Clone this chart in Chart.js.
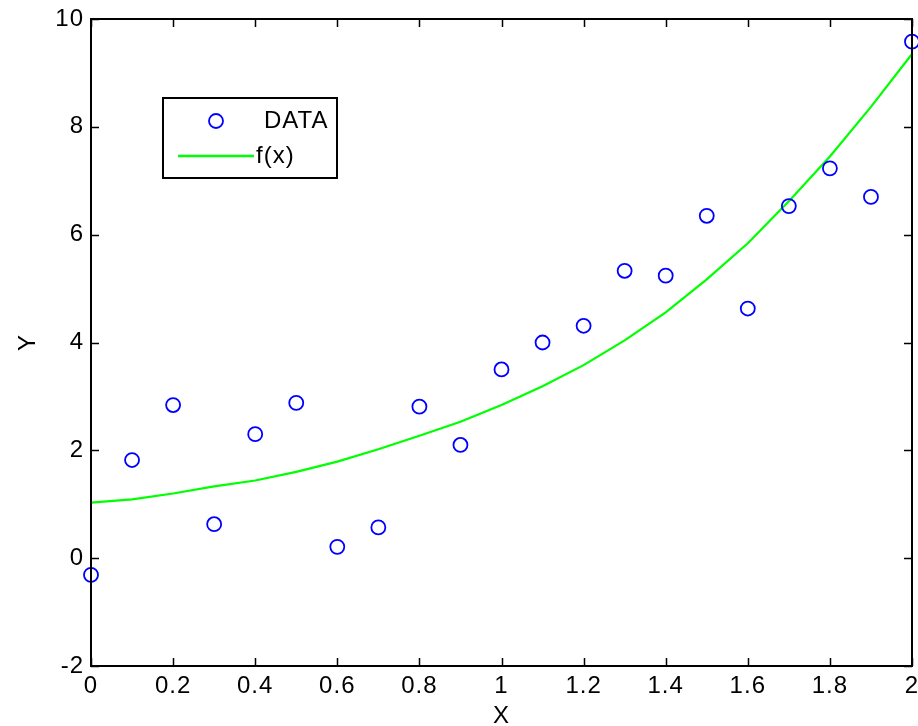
<!DOCTYPE html>
<html>
<head>
<meta charset="utf-8">
<script src="https://cdn.jsdelivr.net/npm/chart.js@4/dist/chart.umd.min.js"></script>
<style>
  html, body { margin: 0; padding: 0; background: #ffffff; }
  #wrap { width: 918px; height: 726px; }
</style>
</head>
<body>
<div id="wrap"><canvas id="c" width="918" height="726"></canvas></div>
<script>
// ---- data ----
const xValues = [0, 0.1, 0.2, 0.3, 0.4, 0.5, 0.6, 0.7, 0.8, 0.9, 1.0, 1.1, 1.2, 1.3, 1.4, 1.5, 1.6, 1.7, 1.8, 1.9, 2.0];
const dataValues = [-0.31, 1.82, 2.84, 0.63, 2.30, 2.88, 0.21, 0.57, 2.81, 2.10, 3.50, 4.00, 4.31, 5.33, 5.24, 6.35, 4.63, 6.53, 7.23, 6.70, 9.58];
const fitValues = [1.03, 1.09, 1.20, 1.33, 1.44, 1.60, 1.79, 2.02, 2.27, 2.53, 2.84, 3.19, 3.58, 4.04, 4.56, 5.17, 5.84, 6.62, 7.45, 8.37, 9.35];
const xTickValues = [0, 0.2, 0.4, 0.6, 0.8, 1, 1.2, 1.4, 1.6, 1.8, 2];
const xTickLabels = ['0', '0.2', '0.4', '0.6', '0.8', '1', '1.2', '1.4', '1.6', '1.8', '2'];
const yTickValues = [-2, 0, 2, 4, 6, 8, 10];
const yTickLabels = ['-2', '0', '2', '4', '6', '8', '10'];
const seriesNames = ['DATA', 'f(x)'];
const axisTitles = { x: 'X', y: 'Y' };

const FONT = "'Liberation Sans', Arial, Helvetica, sans-serif";
const FS = 24;
const SPACING = '1px';
const BLUE = '#0000ff';
const GREEN = '#00ff00';

const toPoints = (ys) => xValues.map((x, i) => ({ x: x, y: ys[i] }));

const spacingPlugin = {
  id: 'spacing',
  beforeLayout(chart) { chart.ctx.letterSpacing = SPACING; },
  beforeDraw(chart) { chart.ctx.letterSpacing = SPACING; }
};

const frameAndLegend = {
  id: 'frameAndLegend',
  afterDraw(chart) {
    const ctx = chart.ctx;
    const a = chart.chartArea;
    const xs = chart.scales.x, ys = chart.scales.y;
    ctx.save();
    // inward ticks on all four sides
    ctx.strokeStyle = '#000';
    ctx.lineWidth = 1.5;
    const TL = 8;
    ctx.beginPath();
    xTickValues.forEach(v => {
      const px = Math.round(xs.getPixelForValue(v)) + 0.5;
      ctx.moveTo(px, a.bottom); ctx.lineTo(px, a.bottom - TL);
      ctx.moveTo(px, a.top); ctx.lineTo(px, a.top + TL);
    });
    yTickValues.forEach(v => {
      const py = Math.round(ys.getPixelForValue(v)) + 0.5;
      ctx.moveTo(a.left, py); ctx.lineTo(a.left + TL, py);
      ctx.moveTo(a.right, py); ctx.lineTo(a.right - TL, py);
    });
    ctx.stroke();
    // box
    ctx.lineWidth = 2;
    ctx.strokeRect(a.left, a.top, a.right - a.left, a.bottom - a.top);

    // legend
    const lx = a.left + 72, ly = a.top + 79, lw = 174, lh = 80;
    ctx.fillStyle = '#fff';
    ctx.fillRect(lx, ly, lw, lh);
    ctx.lineWidth = 2;
    ctx.strokeStyle = '#000';
    ctx.strokeRect(lx, ly, lw, lh);
    const ds0 = chart.data.datasets[0], ds1 = chart.data.datasets[1];
    // DATA marker
    ctx.beginPath();
    ctx.strokeStyle = ds0.borderColor;
    ctx.lineWidth = ds0.borderWidth;
    ctx.arc(lx + 53, ly + 23, ds0.pointRadius, 0, Math.PI * 2);
    ctx.stroke();
    // f(x) line
    ctx.beginPath();
    ctx.strokeStyle = ds1.borderColor;
    ctx.lineWidth = 2.5;
    ctx.moveTo(lx + 15, ly + 58);
    ctx.lineTo(lx + 91, ly + 58);
    ctx.stroke();
    ctx.fillStyle = '#000';
    ctx.font = FS + 'px ' + FONT;
    ctx.letterSpacing = SPACING;
    ctx.textBaseline = 'middle';
    ctx.textAlign = 'left';
    ctx.fillText(ds0.label, lx + 101, ly + 23);
    ctx.fillText(ds1.label, lx + 93, ly + 58);
    ctx.restore();
  }
};

new Chart(document.getElementById('c'), {
  type: 'scatter',
  data: {
    datasets: [
      {
        label: seriesNames[0],
        data: toPoints(dataValues),
        showLine: false,
        pointStyle: 'circle',
        pointRadius: 7,
        pointHoverRadius: 7,
        borderColor: BLUE,
        backgroundColor: 'rgba(0,0,0,0)',
        borderWidth: 1.8,
        clip: false
      },
      {
        label: seriesNames[1],
        data: toPoints(fitValues),
        showLine: true,
        tension: 0,
        pointRadius: 0,
        borderColor: GREEN,
        backgroundColor: GREEN,
        borderWidth: 2.2,
        clip: false
      }
    ]
  },
  options: {
    responsive: false,
    animation: false,
    events: [],
    layout: { autoPadding: false, padding: { top: 19, right: 6, bottom: 0, left: 0 } },
    plugins: { legend: { display: false }, tooltip: { enabled: false } },
    scales: {
      x: {
        type: 'linear',
        min: 0, max: 2,
        afterFit(s) { s.height = 60; s.paddingLeft = 0; s.paddingRight = 0; },
        afterBuildTicks(s) { s.ticks = xTickValues.map(v => ({ value: v })); },
        grid: { display: false, drawTicks: false },
        border: { display: false },
        ticks: {
          color: '#000',
          font: { family: FONT, size: FS },
          padding: 6,
          maxRotation: 0,
          autoSkip: false,
          callback: (v, i) => xTickLabels[i]
        },
        title: {
          display: true, text: axisTitles.x, color: '#000',
          font: { family: FONT, size: FS, lineHeight: 1 },
          padding: { top: 0, bottom: -2 }
        }
      },
      y: {
        type: 'linear',
        min: -2, max: 10,
        afterFit(s) { s.width = 91; s.paddingTop = 0; s.paddingBottom = 0; },
        afterBuildTicks(s) { s.ticks = yTickValues.map(v => ({ value: v })); },
        grid: { display: false, drawTicks: false },
        border: { display: false },
        ticks: {
          color: '#000',
          font: { family: FONT, size: FS },
          padding: 7,
          autoSkip: false,
          callback: (v, i) => yTickLabels[i]
        },
        title: {
          display: true, text: axisTitles.y, color: '#000',
          font: { family: FONT, size: FS, lineHeight: 1 },
          padding: { top: 16, bottom: 0 }
        }
      }
    }
  },
  plugins: [spacingPlugin, frameAndLegend]
});
</script>
</body>
</html>
